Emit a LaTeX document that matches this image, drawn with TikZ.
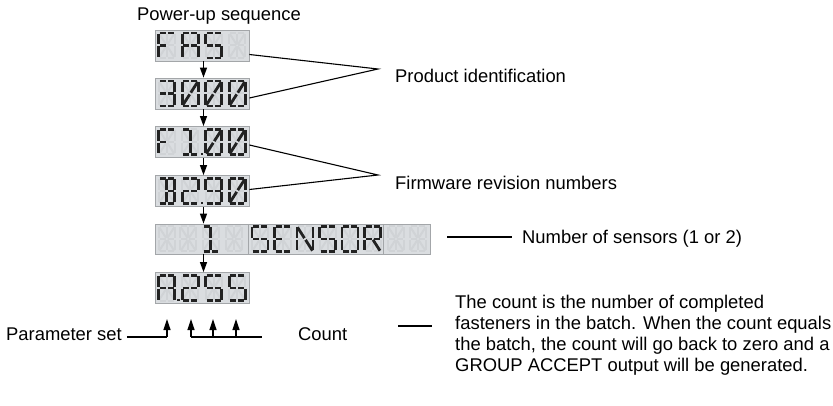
\documentclass[tikz,border=0pt]{standalone}
\usepackage{fontspec}
\setmainfont{Liberation Sans}
\usetikzlibrary{arrows.meta,calc}

\definecolor{lcdbg}{HTML}{DADDE0}
\definecolor{lcdrim}{HTML}{A3A6A9}
\definecolor{lcdon}{HTML}{222222}
\definecolor{lcdoff}{HTML}{D0D3D6}

% sixteen-segment cell geometry: x1/y1/x2/y2 relative to the cell centre (y grows downwards)
\def\segdef#1#2{\expandafter\def\csname lcdseg#1\endcsname{#2}}
\segdef{a1}{-8/-12.5/0/-12.5}
\segdef{a2}{0/-12.5/8/-12.5}
\segdef{b}{8/-12.5/8/0}
\segdef{c}{8/0/8/12.5}
\segdef{d1}{-8/12.5/0/12.5}
\segdef{d2}{0/12.5/8/12.5}
\segdef{e}{-8/0/-8/12.5}
\segdef{f}{-8/-12.5/-8/0}
\segdef{g1}{-8/0/0/0}
\segdef{g2}{0/0/8/0}
\segdef{h}{-8/-12.5/0/0}
\segdef{i}{0/-12.5/0/0}
\segdef{j}{8/-12.5/0/0}
\segdef{k}{0/0/-8/12.5}
\segdef{l}{0/0/0/12.5}
\segdef{m}{0/0/8/12.5}

\def\lcdsegdraw#1/#2/#3/#4\relax#5{\draw[#5] (#1,#2) -- (#3,#4);}
\newcommand\lcdput[2]{%
  \edef\lcdtmp{\csname lcdseg#2\endcsname}%
  \expandafter\lcdsegdraw\lcdtmp\relax{#1}}

% unlit cell: centre x, centre y
\newcommand\lcdghost[2]{%
  \begin{scope}[shift={(#1,#2)}]
    \foreach \s in {a1,a2,b,c,d1,d2,e,f,g1,g2,h,i,j,k,l,m} {\lcdput{segoff}{\s}}
  \end{scope}}
% lit cell: centre x, centre y, macro holding the lit segments
\newcommand\lcdcell[3]{%
  \lcdghost{#1}{#2}%
  \begin{scope}[shift={(#1,#2)}]
    \foreach \s in #3 {\lcdput{segon}{\s}}
  \end{scope}}
\newcommand\lcddot[2]{\fill[lcdon,shift={(#1,#2)}] (-1.4,-1.4) rectangle (1.4,1.4);}

% character segment sets
\def\chF{a1,a2,f,e,g1}
\def\chA{a1,a2,b,c,f,e,g1,g2}
\def\chS{a1,a2,f,g1,g2,c,d1,d2}
\def\chThree{a1,a2,b,c,d1,d2,g1,g2}
\def\chZero{a1,a2,b,c,d1,d2,e,f,j,k}
\def\chOne{a1,i,l,d1,d2}
\def\chB{a1,a2,b,c,d1,d2,i,l,g2}
\def\chTwo{a1,a2,b,g1,g2,e,d1,d2}
\def\chNine{a1,a2,b,c,f,g1,g2,d1,d2}
\def\chE{a1,a2,f,e,g1,d1,d2}
\def\chN{f,e,b,c,h,m}
\def\chO{a1,a2,b,c,d1,d2,e,f}
\def\chR{a1,a2,f,e,b,g1,g2,m}

\begin{document}
\begin{tikzpicture}[x=1pt,y=-1pt,
  lcdbox/.style={draw=lcdrim,line width=0.8pt,fill=lcdbg,inner sep=0pt,minimum width=94pt,minimum height=31pt},
  txt/.style={inner sep=0pt,font=\fontsize{18.4}{21}\selectfont,anchor=base west},
  para/.style={inner sep=0pt,font=\fontsize{18.4}{21}\selectfont,anchor=north west,align=left},
  lead/.style={line width=1.1pt},
  flow/.style={line width=1.2pt,-{Triangle[width=7pt,length=10pt]}},
  upflow/.style={line width=1.2pt,-{Triangle[width=7pt,length=11pt]}},
  segon/.style={draw=lcdon,line width=2.8pt,shorten <=1pt,shorten >=1pt},
  segoff/.style={draw=lcdoff,line width=2pt,shorten <=1pt,shorten >=1pt}]
\useasboundingbox (0,0) rectangle (833,406);

% display windows
\node[lcdbox] (fas)    at (202,45.5) {};
\node[lcdbox] (id3000) at (202,93.5) {};
\node[lcdbox] (f100)   at (202,142)  {};
\node[lcdbox] (b290)   at (202,191)  {};
\node[lcdbox,minimum width=275pt,minimum height=30pt] (sensor) at (292.5,239) {};
\node[lcdbox] (a255)   at (202,288)  {};
\draw[lcdrim,line width=0.8pt] (248.5,224) -- (248.5,254);
\draw[lcdrim,line width=0.6pt] (383.5,224) -- (383.5,254);

% characters
\lcdcell{166.75}{45.5}{\chF}
\lcdcell{190.25}{45.5}{\chA}
\lcdcell{213.75}{45.5}{\chS}
\lcdghost{237.25}{45.5}

\lcdcell{166.75}{93.5}{\chThree}
\lcdcell{190.25}{93.5}{\chZero}
\lcdcell{213.75}{93.5}{\chZero}
\lcdcell{237.25}{93.5}{\chZero}

\lcdcell{166.75}{142}{\chF}
\lcdcell{190.25}{142}{\chOne}
\lcddot{202}{154}
\lcdcell{213.75}{142}{\chZero}
\lcdcell{237.25}{142}{\chZero}

\lcdcell{166.75}{191}{\chB}
\lcdcell{190.25}{191}{\chTwo}
\lcddot{202}{203}
\lcdcell{213.75}{191}{\chNine}
\lcdcell{237.25}{191}{\chZero}

\lcdghost{166.75}{239}
\lcdghost{188.25}{239}
\lcdcell{210.75}{239}{\chOne}
\lcdghost{234.25}{239}
\lcdcell{260}{239}{\chS}
\lcdcell{282.5}{239}{\chE}
\lcdcell{305}{239}{\chN}
\lcdcell{327.5}{239}{\chS}
\lcdcell{350}{239}{\chO}
\lcdcell{372.5}{239}{\chR}
\lcdghost{396}{239}
\lcdghost{418}{239}

\lcdcell{166.75}{288}{\chA}
\lcddot{178.5}{300}
\lcdcell{190.25}{288}{\chTwo}
\lcdcell{213.75}{288}{\chS}
\lcdcell{237.25}{288}{\chS}

% sequence arrows
\draw[flow] ([xshift=1.5pt]fas.south) -- ([xshift=1.5pt]id3000.north);
\draw[flow] ([xshift=1.5pt]id3000.south) -- ([xshift=1.5pt]f100.north);
\draw[flow] ([xshift=1.5pt]f100.south) -- ([xshift=1.5pt]b290.north);
\draw[flow] ([xshift=1.5pt]b290.south) -- ($(b290.south |- sensor.north)+(1.5,0)$);
\draw[flow] ($(a255.north |- sensor.south)+(1.5,0)$) -- ([xshift=1.5pt]a255.north);

% labels
\node[txt] (power) at (137,21) {Power-up sequence};
\node[txt] (prodid) at (395,83) {Product identification};
\node[txt] (firmware) at (395,190) {Firmware revision numbers};
\node[txt] (nsens) at (522,244) {Number of sensors (1 or 2)};
\node[txt] (ps) at (6,340) {Parameter set};
\node[txt] (count) at (298,340) {Count};
\node[para] (note) at (455,295) {The count is the number of completed\\fasteners in the batch. When the count equals\\the batch, the count will go back to zero and a\\GROUP ACCEPT output will be generated.};

% leader lines
\coordinate (pid) at (378,69);
\coordinate (fwr) at (378,175);
\draw[lead] ([yshift=-9pt]fas.east) -- (pid) -- ([yshift=-4.5pt]id3000.east);
\draw[lead] ([yshift=-3pt]f100.east) -- (fwr) -- ([yshift=1.5pt]b290.east);
\coordinate (nsl) at (447,237);
\draw[lead,shorten >=10pt] (nsl) -- (nsl -| nsens.west);
\coordinate (cntl) at (398,326);
\draw[lead,shorten >=23pt] (cntl) -- (cntl -| note.west);

% digit pointers under the last display
\coordinate (psfoot) at (167,337);
\coordinate (c1) at (191,337);
\coordinate (c2) at (213,337);
\coordinate (c3) at (236,337);
\coordinate (cend) at (262,337);
\draw[lead] ($(ps.east |- psfoot)+(5,0)$) -- (psfoot);
\draw[upflow] (psfoot) -- ++(0,-18);
\draw[lead] (c1) -- (cend);
\foreach \p in {c1,c2,c3} \draw[upflow] (\p) -- ++(0,-18);
\end{tikzpicture}
\end{document}
